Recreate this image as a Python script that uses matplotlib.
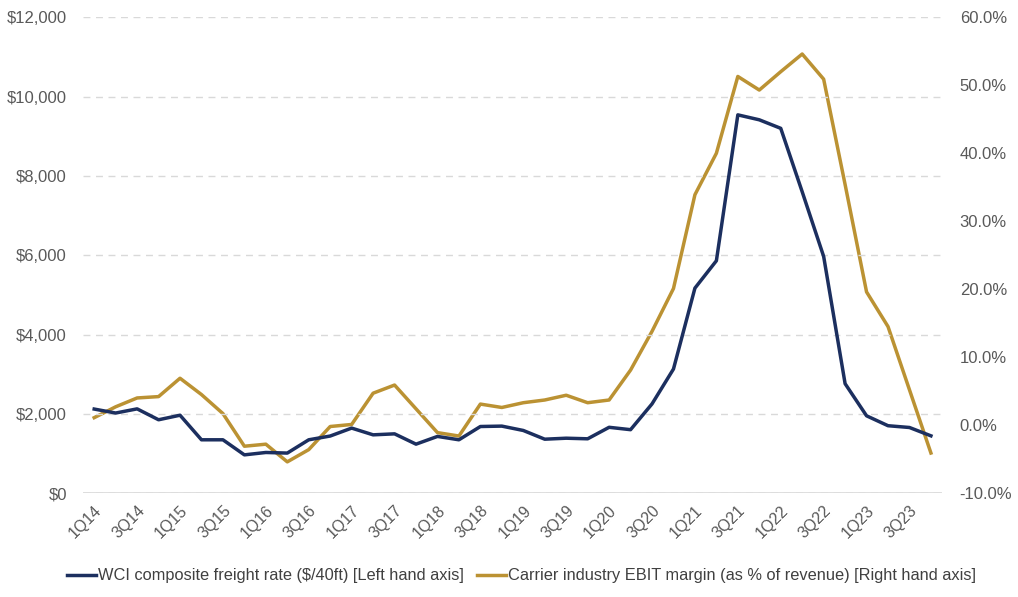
import numpy as np
import matplotlib.pyplot as plt
from matplotlib.ticker import FuncFormatter, FixedLocator

plt.rcParams['font.family'] = ['Liberation Sans', 'DejaVu Sans']

quarters = [f"{q}Q{y}" for y in range(14, 24) for q in range(1, 5)]

wci_rate = [2120, 2020, 2125, 1850, 1965, 1345, 1345, 965, 1025, 1010,
            1345, 1440, 1640, 1470, 1495, 1235, 1430, 1345, 1680, 1690,
            1580, 1360, 1385, 1370, 1660, 1600, 2250, 3130, 5170, 5860,
            9540, 9415, 9200, 7600, 5970, 2760, 1950, 1700, 1655, 1445]

ebit_margin = [1.1, 2.7, 4.0, 4.2, 6.9, 4.5, 1.7, -3.1, -2.8, -5.4,
               -3.6, -0.2, 0.1, 4.7, 5.9, 2.4, -1.1, -1.6, 3.1, 2.6,
               3.3, 3.7, 4.4, 3.3, 3.7, 8.1, 13.8, 20.1, 33.9, 40.0,
               51.3, 49.3, 52.0, 54.6, 50.9, 35.4, 19.6, 14.5, 5.2, -4.1]

navy = "#1c2f5f"
gold = "#bb9233"
grey_txt = "#595959"

x = np.arange(len(quarters))

fig = plt.figure(figsize=(10.18, 5.97), dpi=100)
ax = fig.add_axes([0.082, 0.174, 0.843, 0.797])
ax2 = ax.twinx()

l1, = ax.plot(x, wci_rate, color=navy, lw=2.5, label="WCI composite freight rate ($/40ft) [Left hand axis]")
l2, = ax2.plot(x, ebit_margin, color=gold, lw=2.5, label="Carrier industry EBIT margin (as % of revenue) [Right hand axis]")
ax.set_zorder(ax2.get_zorder() + 1)
ax.patch.set_visible(False)

ax.set_xlim(-0.5, len(quarters) - 0.5)
ax.set_ylim(0, 12000)
ax2.set_ylim(-10, 60)
ax.yaxis.set_major_locator(FixedLocator(np.arange(0, 12001, 2000)))
ax2.yaxis.set_major_locator(FixedLocator(np.arange(-10, 61, 10)))
ax.yaxis.set_major_formatter(FuncFormatter(lambda v, p: f"${v:,.0f}"))
ax2.yaxis.set_major_formatter(FuncFormatter(lambda v, p: f"{v:.1f}%"))

ax.set_xticks(x[::2])
ax.set_xticklabels(quarters[::2], rotation=45, ha="right", rotation_mode="anchor")

for a in (ax, ax2):
    for s in a.spines.values():
        s.set_visible(False)
    a.tick_params(length=0, labelsize=11.5, labelcolor=grey_txt)
ax.tick_params(axis="y", labelsize=12, pad=12)
ax2.tick_params(axis="y", labelsize=12, pad=13)
ax.tick_params(axis="x", pad=7)

ax.yaxis.grid(True, color="#d9d9d9", ls=(0, (5, 4)), lw=1)
ax.set_axisbelow(True)
ax.axhline(0, color="#d9d9d9", lw=1.2, zorder=0)

leg = fig.legend(handles=[l1, l2], loc="lower center", bbox_to_anchor=(0.512, -0.002),
                 ncol=2, frameon=False, handlelength=1.8, handletextpad=0.1, columnspacing=0.8,
                 prop={"size": 11.8})
for t in leg.get_texts():
    t.set_color("#404040")

fig.savefig("out.png", dpi=100)
